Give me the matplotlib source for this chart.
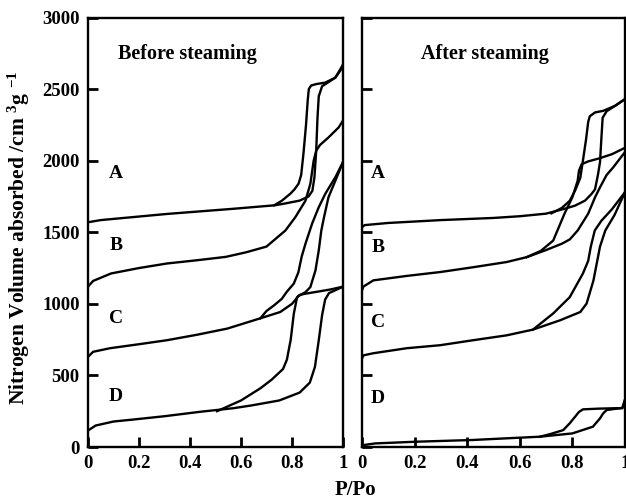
import matplotlib
matplotlib.use("Agg")
import matplotlib.pyplot as plt

plt.rcParams["font.family"] = "Liberation Serif"
plt.rcParams["font.weight"] = "bold"
plt.rcParams["mathtext.fontset"] = "custom"
plt.rcParams["mathtext.rm"] = "Liberation Serif:bold"
plt.rcParams["mathtext.default"] = "regular"

# ---- before steaming (P/Po, cm3/g) ----
bA_ads_x = [0, 0.05, 0.31, 0.57, 0.73, 0.77, 0.83, 0.865, 0.88, 0.888, 0.895, 0.90, 0.905, 0.918, 0.94, 0.97, 0.99, 1.0]
bA_ads_y = [1570, 1585, 1628, 1664, 1688, 1700, 1721, 1750, 1790, 1884, 2070, 2300, 2450, 2520, 2545, 2580, 2630, 2670]
bA_des_x = [1.0, 0.97, 0.93, 0.895, 0.875, 0.866, 0.862, 0.855, 0.845, 0.836, 0.826, 0.81, 0.794, 0.76, 0.73]
bA_des_y = [2670, 2580, 2545, 2535, 2525, 2500, 2428, 2250, 2050, 1900, 1840, 1800, 1770, 1720, 1688]

bB_x = [0, 0.02, 0.09, 0.2, 0.31, 0.43, 0.54, 0.62, 0.70, 0.774, 0.813, 0.853, 0.872, 0.885, 0.895, 0.91, 0.943, 0.983, 1.0]
bB_y = [1120, 1160, 1212, 1250, 1282, 1305, 1328, 1360, 1400, 1512, 1605, 1721, 1838, 2000, 2070, 2110, 2162, 2232, 2280]

bC_ads_x = [0, 0.02, 0.086, 0.2, 0.31, 0.43, 0.546, 0.676, 0.754, 0.80, 0.826, 0.853, 0.872, 0.892, 0.905, 0.915, 0.925, 0.943, 0.97, 1.0]
bC_ads_y = [630, 665, 690, 718, 746, 785, 827, 899, 943, 1000, 1055, 1082, 1117, 1233, 1373, 1512, 1600, 1744, 1860, 1990]
bC_des_x = [1.0, 0.97, 0.931, 0.905, 0.879, 0.853, 0.838, 0.825, 0.807, 0.78, 0.76, 0.73, 0.70, 0.676]
bC_des_y = [1990, 1884, 1770, 1675, 1561, 1421, 1330, 1220, 1141, 1085, 1035, 990, 950, 899]

bD_ads_x = [0, 0.03, 0.1, 0.178, 0.3, 0.44, 0.57, 0.64, 0.75, 0.83, 0.87, 0.89, 0.905, 0.918, 0.93, 0.945, 0.97, 1.0]
bD_ads_y = [115, 150, 178, 192, 215, 246, 271, 290, 325, 380, 450, 560, 746, 920, 1030, 1075, 1095, 1120]
bD_des_x = [1.0, 0.95, 0.9, 0.85, 0.83, 0.82, 0.807, 0.795, 0.78, 0.765, 0.72, 0.676, 0.6, 0.506]
bD_des_y = [1120, 1100, 1085, 1070, 1062, 1047, 930, 750, 610, 545, 470, 410, 325, 250]

# ---- after steaming ----
aA_ads_x = [0, 0.01, 0.1, 0.3, 0.5, 0.6, 0.7, 0.77, 0.81, 0.848, 0.873, 0.886, 0.897, 0.905, 0.91, 0.915, 0.93, 0.962, 1.0]
aA_ads_y = [1535, 1550, 1565, 1585, 1600, 1612, 1630, 1664, 1686, 1721, 1768, 1800, 1900, 1990, 2150, 2300, 2345, 2383, 2430]
aA_des_x = [1.0, 0.962, 0.917, 0.886, 0.866, 0.86, 0.852, 0.84, 0.83, 0.81, 0.79, 0.76, 0.72]
aA_des_y = [2430, 2383, 2348, 2337, 2310, 2270, 2150, 2000, 1880, 1790, 1720, 1670, 1632]

aB_ads_x = [0, 0.005, 0.043, 0.17, 0.297, 0.42, 0.55, 0.626, 0.696, 0.76, 0.79, 0.82, 0.86, 0.886, 0.905, 0.93, 0.955, 1.0]
aB_ads_y = [1094, 1120, 1164, 1195, 1222, 1255, 1292, 1326, 1373, 1420, 1450, 1512, 1630, 1744, 1814, 1900, 1953, 2060]
aB_des_x = [1.0, 0.95, 0.9, 0.86, 0.835, 0.825, 0.82, 0.80, 0.77, 0.727, 0.68, 0.626]
aB_des_y = [2090, 2045, 2015, 1995, 1975, 1930, 1860, 1745, 1630, 1442, 1370, 1326]

aC_ads_x = [0, 0.005, 0.043, 0.17, 0.297, 0.423, 0.55, 0.65, 0.753, 0.83, 0.854, 0.88, 0.905, 0.925, 0.96, 1.0]
aC_ads_y = [618, 640, 655, 690, 711, 746, 780, 820, 885, 943, 1002, 1163, 1400, 1512, 1620, 1780]
aC_des_x = [1.0, 0.95, 0.91, 0.885, 0.87, 0.86, 0.84, 0.79, 0.727, 0.65]
aC_des_y = [1780, 1660, 1580, 1512, 1400, 1300, 1212, 1047, 933, 820]

aD_ads_x = [0, 0.05, 0.207, 0.42, 0.677, 0.80, 0.878, 0.905, 0.917, 0.93, 0.96, 0.99, 1.0]
aD_ads_y = [12, 25, 37, 49, 72, 95, 142, 200, 235, 258, 266, 272, 330]
aD_des_x = [1.0, 0.99, 0.9, 0.84, 0.825, 0.81, 0.79, 0.765, 0.715, 0.677]
aD_des_y = [330, 272, 268, 263, 245, 211, 166, 118, 90, 72]

LETTERS = ["A", "B", "C", "D"]
before_label_y = [1910, 1408, 899, 350]
after_label_y = [1910, 1396, 873, 340]

XTICKS = [0, 0.2, 0.4, 0.6, 0.8, 1.0]
XTICKLABELS = ["0", "0.2", "0.4", "0.6", "0.8", "1"]
YTICKS = [0, 500, 1000, 1500, 2000, 2500, 3000]

before = [(bA_ads_x, bA_ads_y), (bA_des_x, bA_des_y), (bB_x, bB_y),
          (bC_ads_x, bC_ads_y), (bC_des_x, bC_des_y),
          (bD_ads_x, bD_ads_y), (bD_des_x, bD_des_y)]
after = [(aA_ads_x, aA_ads_y), (aA_des_x, aA_des_y),
         (aB_ads_x, aB_ads_y), (aB_des_x, aB_des_y),
         (aC_ads_x, aC_ads_y), (aC_des_x, aC_des_y),
         (aD_ads_x, aD_ads_y), (aD_des_x, aD_des_y)]

LW = 1.7

fig = plt.figure(figsize=(6.26, 4.99), dpi=100)
ax1 = fig.add_axes([0.1406, 0.1042, 0.4073, 0.8607])
ax2 = fig.add_axes([0.5783, 0.1042, 0.4201, 0.8607])


def style(ax, show_y):
    ax.set_xlim(0, 1)
    ax.set_ylim(0, 3000)
    ax.set_xticks(XTICKS)
    ax.set_xticklabels(XTICKLABELS)
    ax.set_yticks(YTICKS)
    ax.tick_params(direction="in", length=7, width=2, labelsize=13.5, pad=6,
                   labelleft=show_y)
    for s in ax.spines.values():
        s.set_linewidth(LW)


for ax, curves, title, tx, ly, lx in (
        (ax1, before, "Before steaming", 0.39, before_label_y, 0.11),
        (ax2, after, "After steaming", 0.468, after_label_y, 0.06)):
    for x, y in curves:
        ax.plot(x, y, color="black", lw=LW, solid_joinstyle="round")
    ax.text(tx, 2745, title, ha="center", va="center", fontsize=14.5)
    for letter, yy in zip(LETTERS, ly):
        ax.text(lx, yy, letter, ha="center", va="center", fontsize=14)

style(ax1, True)
style(ax2, False)

ax1.set_ylabel(r"Nitrogen Volume absorbed /cm $^{3}$g $^{-1}$", fontsize=15.5,
               fontweight="bold")
ax1.yaxis.set_label_coords(-0.22, 0.488)
fig.text(355 / 626, 1 - 490 / 499, "P/Po", ha="center", va="center",
         fontsize=15, fontweight="bold")

fig.savefig("out.png", dpi=100)
